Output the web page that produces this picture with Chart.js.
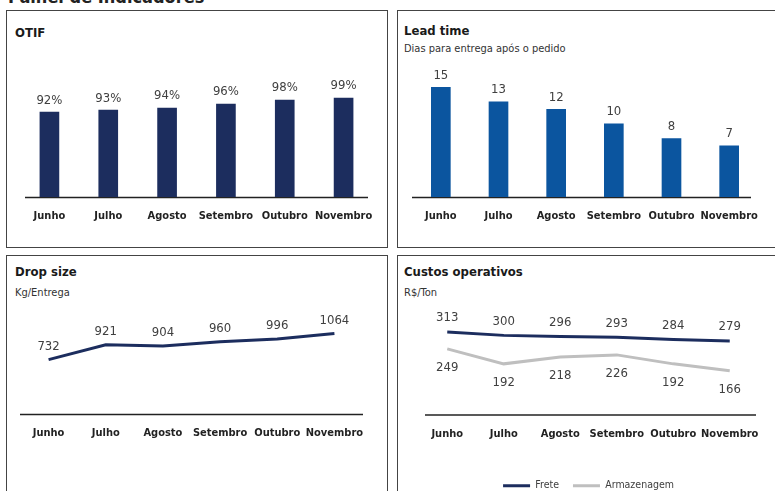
<!DOCTYPE html>
<html>
<head>
<meta charset="utf-8">
<script src="https://cdn.jsdelivr.net/npm/chart.js@4"></script>
<style>
  body { margin: 0; width: 775px; height: 491px; overflow: hidden; background: #fff; position: relative;
         font-family: "DejaVu Sans", sans-serif; font-stretch: condensed; color: #222; }
  .page-title { position: absolute; left: 8px; top: -12px; font-size: 18px; line-height: 18px; font-weight: bold; color: #222; }
  .panel { position: absolute; border: 1px solid #444; box-sizing: border-box; }
  .panel h2 { position: absolute; margin: 0; font-size: 13px; font-weight: bold; line-height: 15px; color: #1a1a1a; }
  .panel .sub { position: absolute; font-size: 11px; line-height: 13px; color: #333; }
  canvas { position: absolute; }
</style>
</head>
<body>
<div class="page-title">Painel de Indicadores</div>

<div class="panel" style="left:6px;top:10px;width:382px;height:238px"><h2 style="left:8px;top:14px">OTIF</h2></div>
<div class="panel" style="left:397px;top:10px;width:390px;height:238px">
  <h2 style="left:6px;top:12px">Lead time</h2><div class="sub" style="left:6px;top:31px">Dias para entrega após o pedido</div></div>
<div class="panel" style="left:6px;top:255px;width:382px;height:250px">
  <h2 style="left:8px;top:8px">Drop size</h2><div class="sub" style="left:8px;top:30px">Kg/Entrega</div></div>
<div class="panel" style="left:397px;top:255px;width:390px;height:250px">
  <h2 style="left:6px;top:8px">Custos operativos</h2><div class="sub" style="left:6px;top:30px">R$/Ton</div></div>

<canvas id="otif" width="380" height="205" style="left:7px;top:40px"></canvas>
<canvas id="lead" width="377" height="185" style="left:398px;top:60px"></canvas>
<canvas id="drop" width="380" height="150" style="left:7px;top:300px"></canvas>
<canvas id="custos" width="377" height="201" style="left:398px;top:300px"></canvas>

<script>
const months = ["Junho", "Julho", "Agosto", "Setembro", "Outubro", "Novembro"];
const otif = [92, 93, 94, 96, 98, 99];
const leadTime = [15, 13, 12, 10, 8, 7];
const dropSize = [732, 921, 904, 960, 996, 1064];
const frete = [313, 300, 296, 293, 284, 279];
const armazenagem = [249, 192, 218, 226, 192, 166];

const NAVY = "#1c2d5e", BLUE = "#0b559f", GREY = "#bfbfbf";
const FONT = "'DejaVu Sans', sans-serif";
// condensed face goes in through the weight slot of the font shorthand
Chart.defaults.font.family = FONT;
Chart.defaults.font.weight = "condensed";
Chart.defaults.color = "#404040";

// value labels drawn at each element, offset per dataset (labelDy)
const valueLabels = {
  id: "valueLabels",
  afterDatasetsDraw(chart) {
    const ctx = chart.ctx;
    chart.data.datasets.forEach((ds, i) => {
      chart.getDatasetMeta(i).data.forEach((el, j) => {
        ctx.save();
        ctx.font = "condensed 13px " + FONT;
        ctx.fillStyle = "#404040";
        ctx.textAlign = "center";
        ctx.textBaseline = "middle";
        ctx.fillText(ds.data[j] + (ds.suffix || ""), el.x, el.y + ds.labelDy);
        ctx.restore();
      });
    });
  },
};
// baseline under the categories
const baseLine = {
  id: "baseLine",
  beforeDatasetsDraw(chart, args, opts) {
    const { ctx, chartArea: a } = chart;
    ctx.save();
    ctx.strokeStyle = "#222";
    ctx.lineWidth = 1.5;
    ctx.beginPath();
    ctx.moveTo(a.left + (opts.inL || 0), a.bottom + 0.5);
    ctx.lineTo(a.right - (opts.inR || 0), a.bottom + 0.5);
    ctx.stroke();
    ctx.restore();
  },
};

const xAxis = (h) => ({
  offset: true,
  grid: { display: false, drawTicks: false },
  border: { display: false },
  ticks: { padding: 13, color: "#222", maxRotation: 0, autoSkip: false, font: { size: 11, weight: "bold condensed" } },
  afterFit: (s) => { s.height = h || 30; },
});
const common = (pad, ymin, ymax, base, axisH) => ({
  responsive: false,
  animation: false,
  layout: { padding: pad },
  plugins: { legend: { display: false }, tooltip: { enabled: false }, baseLine: base || {} },
  scales: { x: xAxis(axisH), y: { display: false, min: ymin, max: ymax } },
});

new Chart(document.getElementById("otif"), {
  type: "bar",
  data: { labels: months, datasets: [{ data: otif, backgroundColor: NAVY, barThickness: 19, suffix: "%", labelDy: -12 }] },
  options: common({ left: 13, right: 14, top: 56, bottom: 18 }, 50, 100, { inL: 5, inR: 5 }),
  plugins: [valueLabels, baseLine],
});

new Chart(document.getElementById("lead"), {
  type: "bar",
  data: { labels: months, datasets: [{ data: leadTime, backgroundColor: BLUE, barThickness: 19, labelDy: -12 }] },
  options: common({ left: 14, right: 17, top: 20, bottom: 18 }, 0, 16, { inL: 0, inR: 7 }),
  plugins: [valueLabels, baseLine],
});

new Chart(document.getElementById("drop"), {
  type: "line",
  data: { labels: months, datasets: [{ data: dropSize, borderColor: NAVY, borderWidth: 3, pointRadius: 0, clip: false, labelDy: -13 }] },
  options: common({ left: 13, right: 24, top: 4, bottom: 6 }, 40, 1440),
  plugins: [valueLabels, baseLine],
});

const custosOpts = common({ left: 21, right: 17, top: 9, bottom: 0 }, 0, 400, { inL: 6, inR: 2 }, 52);
custosOpts.plugins.legend = {
  display: true,
  position: "bottom",
  labels: {
    boxWidth: 27, boxHeight: 3, padding: 14, color: "#404040", font: { size: 10.5 },
    generateLabels: (chart) => Chart.defaults.plugins.legend.labels.generateLabels(chart)
      .map((l) => ({ ...l, lineWidth: 0, fillStyle: l.strokeStyle })),
  },
};
new Chart(document.getElementById("custos"), {
  type: "line",
  data: {
    labels: months,
    datasets: [
      { label: "Frete", data: frete, borderColor: NAVY, backgroundColor: NAVY, borderWidth: 3, pointRadius: 0, clip: false, labelDy: -14 },
      { label: "Armazenagem", data: armazenagem, borderColor: GREY, backgroundColor: GREY, borderWidth: 3, pointRadius: 0, clip: false, labelDy: 19 },
    ],
  },
  options: custosOpts,
  plugins: [valueLabels, baseLine],
});
</script>
</body>
</html>
